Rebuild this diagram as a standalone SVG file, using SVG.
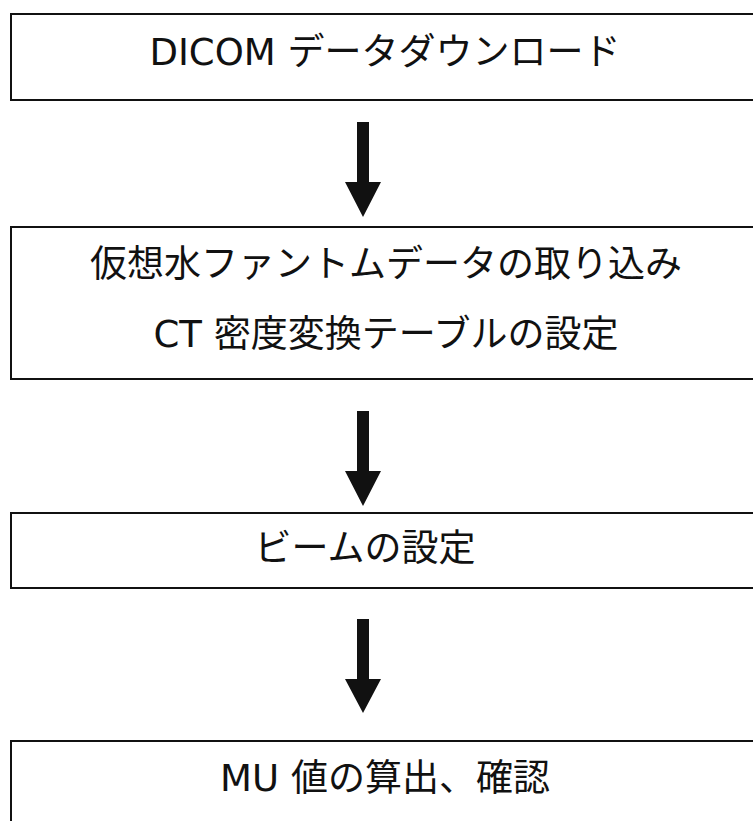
<svg xmlns="http://www.w3.org/2000/svg" width="753" height="821" viewBox="0 0 753 821">
<style>
.box{fill:#fff;stroke:#111;stroke-width:2}
.t{font-family:"DejaVu Sans","Noto Sans CJK JP",sans-serif;font-size:37px;fill:#111;text-anchor:middle}
.arr{fill:#111}
</style>
<rect width="753" height="821" fill="#fff"/>
<g id="node1"><rect class="box" x="11" y="14" width="760" height="86"/><text class="t" x="385" y="65">DICOM データダウンロード</text></g>
<g id="node2"><rect class="box" x="11" y="227" width="760" height="152"/><text class="t" x="386" y="277">仮想水ファントムデータの取り込み</text><text class="t" x="386" y="347">CT 密度変換テーブルの設定</text></g>
<g id="node3"><rect class="box" x="11" y="513" width="760" height="75"/><text class="t" x="365" y="561">ビームの設定</text></g>
<g id="node4"><rect class="box" x="11" y="741" width="760" height="100"/><text class="t" x="385" y="791">MU 値の算出、確認</text></g>
<g id="connectors">
<path class="arr" d="M357 122H369V182H381L363 217L345 182H357Z"/>
<path class="arr" d="M357 411H369V471H381L363 506L345 471H357Z"/>
<path class="arr" d="M357 619H369V679H381L363 713L345 679H357Z"/>
</g>
</svg>
